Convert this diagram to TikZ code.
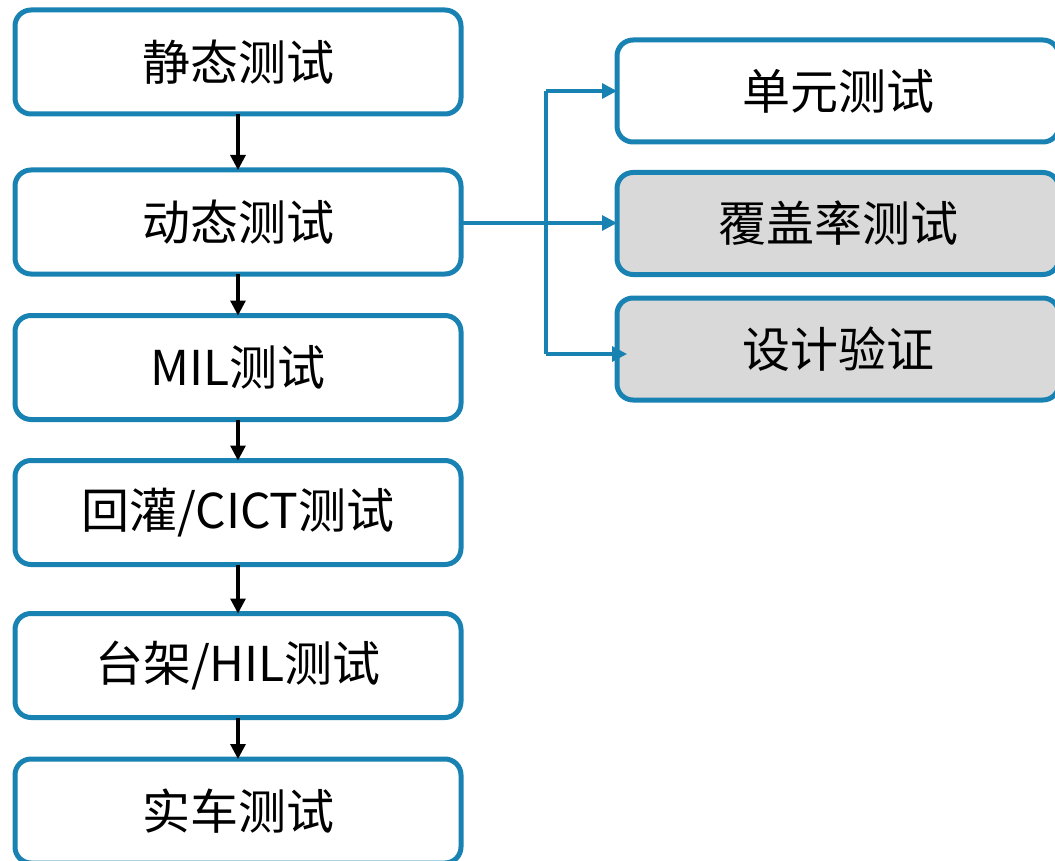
\documentclass[tikz,border=0pt]{standalone}
\usepackage{fontspec}
\setmainfont{Noto Sans CJK SC}
\usetikzlibrary{arrows.meta}
\definecolor{boxblue}{RGB}{24,130,178}
\definecolor{boxgray}{RGB}{217,217,217}
\begin{document}
\begin{tikzpicture}[x=1pt,y=-1pt,
  stepbox/.style={draw=boxblue,line width=5pt,rounded corners=16pt,fill=white,
    minimum width=446pt,minimum height=104pt,inner sep=0pt,outer sep=0pt,
    font=\fontsize{48pt}{52pt}\selectfont},
  subbox/.style={stepbox,minimum width=442pt,minimum height=102pt},
  grayfill/.style={fill=boxgray},
  flow/.style={line width=3.2pt,-{Triangle[length=15pt,width=15pt]}},
  branch/.style={draw=boxblue,line width=3.2pt},
  branchar/.style={branch,-{Triangle[length=15pt,width=15pt]}}]
\useasboundingbox (0,0) rectangle (1055,861);
\node[stepbox] (s1) at (238,62) {静态测试};
\node[stepbox] (s2) at (238,222) {动态测试};
\node[stepbox] (s3) at (238,367.5) {MIL测试};
\node[stepbox] (s4) at (238,512.5) {回灌/CICT测试};
\node[stepbox] (s5) at (238,665.5) {台架/HIL测试};
\node[stepbox] (s6) at (238,811) {实车测试};
\node[subbox] (r1) at (838,91) {单元测试};
\node[subbox,grayfill] (r2) at (838,223.5) {覆盖率测试};
\node[subbox,grayfill] (r3) at (838,349) {设计验证};
\draw[flow] (s1.south) -- (s2.north);
\draw[flow] (s2.south) -- (s3.north);
\draw[flow] (s3.south) -- (s4.north);
\draw[flow] (s4.south) -- (s5.north);
\draw[flow] (s5.south) -- (s6.north);
\coordinate (j) at (546,223);
\coordinate (jt) at (546,91);
\coordinate (jb) at (546,354);
\draw[branch] (s2.east |- j) -- (j);
\draw[branch] (jt) -- (jb);
\draw[branchar] (jt) -- (r1.west |- jt);
\draw[branchar] (j) -- (r2.west |- j);
\draw[branchar] (jb) -- ([xshift=10pt]r3.west |- jb);
\end{tikzpicture}
\end{document}
